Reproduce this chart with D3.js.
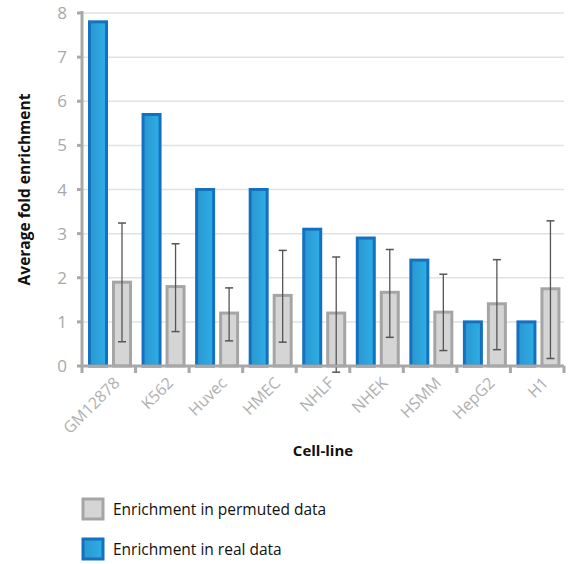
<!DOCTYPE html>
<html>
<head>
<meta charset="utf-8">
<script src="https://cdn.jsdelivr.net/npm/d3@7"></script>
<style>
  body { margin: 0; background: #fff; }
  text { font-family: "Open Sans", "DejaVu Sans", sans-serif; }
</style>
</head>
<body>
<div id="chart"></div>
<script>
// data
var cellLines = ["GM12878", "K562", "Huvec", "HMEC", "NHLF", "NHEK", "HSMM", "HepG2", "H1"];
var realValues = [7.8, 5.7, 4.0, 4.0, 3.1, 2.9, 2.4, 1.0, 1.0];
var permValues = [1.9, 1.8, 1.2, 1.6, 1.2, 1.67, 1.22, 1.41, 1.75];
var permLow = [0.55, 0.78, 0.57, 0.54, -0.14, 0.65, 0.35, 0.37, 0.17];
var permHigh = [3.24, 2.77, 1.77, 2.62, 2.47, 2.64, 2.08, 2.41, 3.29];
var yTicks = [0, 1, 2, 3, 4, 5, 6, 7, 8];
var legendLabels = ["Enrichment in permuted data", "Enrichment in real data"];

var W = 579, H = 564;
var margin = {top: 13, right: 15, bottom: 198, left: 82};
var width = W - margin.left - margin.right;
var height = H - margin.top - margin.bottom;

var svg = d3.select("#chart").append("svg")
	.attr("width", W)
	.attr("height", H);

var defs = svg.append("defs");
var grad = defs.append("linearGradient")
	.attr("id", "blueGrad")
	.attr("x1", "0%").attr("y1", "0%")
	.attr("x2", "100%").attr("y2", "0%");
grad.append("stop").attr("offset", "0%").attr("stop-color", "#2a97cf");
grad.append("stop").attr("offset", "100%").attr("stop-color", "#2eaee6");

var g = svg.append("g")
	.attr("transform", "translate(" + margin.left + "," + margin.top + ")");

var x = d3.scaleBand().domain(cellLines).range([0, width]);
var y = d3.scaleLinear().domain([0, 8]).range([height, 0]);

// gridlines
g.selectAll(".grid")
	.data(yTicks.slice(1))
	.enter().append("line")
	.attr("x1", 0).attr("x2", width)
	.attr("y1", function(d) { return y(d); })
	.attr("y2", function(d) { return y(d); })
	.style("stroke", "#e2e2e2")
	.style("stroke-width", 1.5);

var bw = 17;

// real data bars
g.selectAll(".real")
	.data(cellLines)
	.enter().append("rect")
	.attr("x", function(d) { return x(d) + 7.5; })
	.attr("y", function(d, i) { return y(realValues[i]); })
	.attr("width", bw)
	.attr("height", function(d, i) { return height - y(realValues[i]); })
	.style("fill", "url(#blueGrad)")
	.style("stroke", "#1471c2")
	.style("stroke-width", 3);

// permuted bars
g.selectAll(".perm")
	.data(cellLines)
	.enter().append("rect")
	.attr("x", function(d) { return x(d) + 31.5; })
	.attr("y", function(d, i) { return y(permValues[i]); })
	.attr("width", bw)
	.attr("height", function(d, i) { return height - y(permValues[i]); })
	.style("fill", "#d5d5d5")
	.style("stroke", "#a5a5a5")
	.style("stroke-width", 3);

// error bars
var err = g.selectAll(".err")
	.data(cellLines)
	.enter().append("g")
	.attr("transform", function(d) { return "translate(" + (x(d) + 40) + ",0)"; });
err.append("line")
	.attr("y1", function(d, i) { return y(permLow[i]); })
	.attr("y2", function(d, i) { return y(permHigh[i]); })
	.style("stroke", "#555").style("stroke-width", 1.3);
err.append("line")
	.attr("x1", -4).attr("x2", 4)
	.attr("y1", function(d, i) { return y(permLow[i]); })
	.attr("y2", function(d, i) { return y(permLow[i]); })
	.style("stroke", "#555").style("stroke-width", 1.5);
err.append("line")
	.attr("x1", -4).attr("x2", 4)
	.attr("y1", function(d, i) { return y(permHigh[i]); })
	.attr("y2", function(d, i) { return y(permHigh[i]); })
	.style("stroke", "#555").style("stroke-width", 1.5);

// x axis
var xAxis = g.append("g")
	.attr("transform", "translate(0," + height + ")");
xAxis.append("line")
	.attr("x1", 0).attr("x2", width)
	.style("stroke", "#a8a8a8").style("stroke-width", 3);
xAxis.selectAll(".xt")
	.data(cellLines.concat(["end"]))
	.enter().append("line")
	.attr("x1", function(d, i) { return i * x.bandwidth(); })
	.attr("x2", function(d, i) { return i * x.bandwidth(); })
	.attr("y1", 0).attr("y2", 7)
	.style("stroke", "#a8a8a8").style("stroke-width", 3);
xAxis.selectAll(".xl")
	.data(cellLines)
	.enter().append("text")
	.attr("transform", function(d) {
		return "translate(" + (x(d) + x.bandwidth() / 2 + 12) + ",18) rotate(-45)";
	})
	.attr("text-anchor", "end")
	.style("font-size", "16px")
	.style("fill", "#b0b0b0")
	.text(function(d) { return d; });

// y axis
var yAxis = g.append("g");
yAxis.append("line")
	.attr("y1", -2).attr("y2", height)
	.style("stroke", "#a8a8a8").style("stroke-width", 3);
yAxis.selectAll(".yt")
	.data(yTicks)
	.enter().append("line")
	.attr("x1", -5).attr("x2", 0)
	.attr("y1", function(d) { return y(d); })
	.attr("y2", function(d) { return y(d); })
	.style("stroke", "#a8a8a8").style("stroke-width", 3);
yAxis.selectAll(".yl")
	.data(yTicks)
	.enter().append("text")
	.attr("x", -15)
	.attr("y", function(d) { return y(d); })
	.attr("dy", "0.36em")
	.attr("text-anchor", "end")
	.style("font-size", "17px")
	.style("fill", "#a8a8a8")
	.text(function(d) { return d; });

// axis titles
svg.append("text")
	.attr("transform", "translate(30," + (margin.top + height / 2) + ") rotate(-90)")
	.attr("text-anchor", "middle")
	.style("font-size", "15.5px")
	.style("font-weight", "bold")
	.style("fill", "#111")
	.text("Average fold enrichment");

svg.append("text")
	.attr("x", margin.left + width / 2)
	.attr("y", 456)
	.attr("text-anchor", "middle")
	.style("font-size", "15px")
	.style("font-weight", "bold")
	.style("fill", "#111")
	.text("Cell-line");

// legend
var legendFills = ["#d5d5d5", "url(#blueGrad)"];
var legendStrokes = ["#a5a5a5", "#1471c2"];
var legend = svg.selectAll(".legend")
	.data(legendLabels)
	.enter().append("g")
	.attr("transform", function(d, i) { return "translate(83," + (499 + i * 40) + ")"; });
legend.append("rect")
	.attr("width", 20).attr("height", 20)
	.style("fill", function(d, i) { return legendFills[i]; })
	.style("stroke", function(d, i) { return legendStrokes[i]; })
	.style("stroke-width", 3);
legend.append("text")
	.attr("x", 30).attr("y", 10)
	.attr("dy", "0.36em")
	.style("font-size", "15.5px")
	.style("fill", "#111")
	.text(function(d) { return d; });
</script>
</body>
</html>
